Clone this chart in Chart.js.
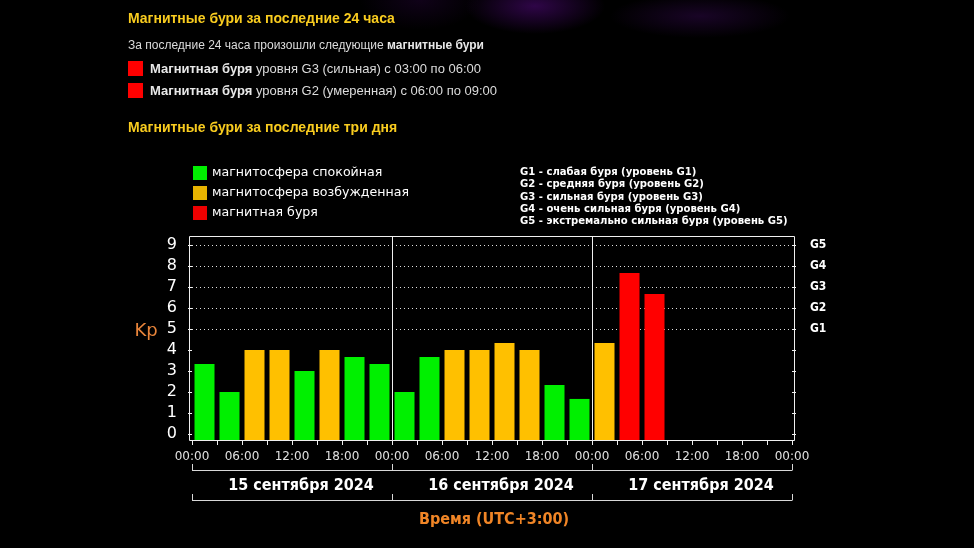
<!DOCTYPE html>
<html>
<head>
<meta charset="utf-8">
<script src="https://cdn.jsdelivr.net/npm/chart.js@4.4.1/dist/chart.umd.min.js"></script>
<style>
  html, body { margin:0; padding:0; }
  body {
    width:974px; height:548px; overflow:hidden; position:relative;
    background:
      radial-gradient(ellipse 70px 28px at 535px 6px, rgba(85,10,130,0.55), rgba(0,0,0,0) 100%),
      radial-gradient(ellipse 90px 22px at 700px 16px, rgba(55,10,85,0.45), rgba(0,0,0,0) 100%),
      radial-gradient(ellipse 60px 30px at 420px 0px, rgba(45,5,70,0.35), rgba(0,0,0,0) 100%),
      #000;
    font-family: "Liberation Sans", Arial, sans-serif;
  }
  #c { position:absolute; left:0; top:0; }
  .t { position:absolute; white-space:nowrap; line-height:1; }
  .h { color:#f9cc1f; font-weight:bold; font-size:14px; }
  .p { color:#dcdcdc; font-size:12px; }
  .p b { color:#e8e8e8; }
  .sq { position:absolute; }
  .lg { color:#fff; font-family:"DejaVu Sans", sans-serif; font-size:12.6px; }
  .gl { color:#fff; font-family:"DejaVu Sans Condensed","DejaVu Sans",sans-serif; font-weight:bold; font-size:11.2px; line-height:12.3px; }
</style>
</head>
<body>
<canvas id="c" width="974" height="548"></canvas>

<div class="t h" style="left:128px; top:11px;">Магнитные бури за последние 24 часа</div>
<div class="t p" style="left:128px; top:39px;">За последние 24 часа произошли следующие <b>магнитные бури</b></div>
<div class="sq" style="left:128px; top:61px; width:15px; height:15px; background:#ff0000;"></div>
<div class="t p" style="left:150px; top:62px; font-size:13px;"><b>Магнитная буря</b> уровня G3 (сильная) с 03:00 по 06:00</div>
<div class="sq" style="left:128px; top:83px; width:15px; height:15px; background:#ff0000;"></div>
<div class="t p" style="left:150px; top:84px; font-size:13px;"><b>Магнитная буря</b> уровня G2 (умеренная) с 06:00 по 09:00</div>
<div class="t h" style="left:128px; top:120px;">Магнитные бури за последние три дня</div>

<div class="sq" style="left:193px; top:166px; width:14px; height:14px; background:#00f000;"></div>
<div class="t lg" style="left:212px; top:166px;">магнитосфера спокойная</div>
<div class="sq" style="left:193px; top:186px; width:14px; height:14px; background:#e8b400;"></div>
<div class="t lg" style="left:212px; top:186px;">магнитосфера возбужденная</div>
<div class="sq" style="left:193px; top:206px; width:14px; height:14px; background:#ee0000;"></div>
<div class="t lg" style="left:212px; top:206px;">магнитная буря</div>

<div class="t gl" style="left:520px; top:166px;">G1 - слабая буря (уровень G1)<br>G2 - средняя буря (уровень G2)<br>G3 - сильная буря (уровень G3)<br>G4 - очень сильная буря (уровень G4)<br>G5 - экстремально сильная буря (уровень G5)</div>

<script>
// ---- data ----
const dayLabels = ['15 сентября 2024', '16 сентября 2024', '17 сентября 2024'];
const hourLabels = ['00:00', '06:00', '12:00', '18:00'];
const slotLabels = ['00:00','03:00','06:00','09:00','12:00','15:00','18:00','21:00'];
const categories = [];
dayLabels.forEach(d => slotLabels.forEach(s => categories.push(d + ' ' + s)));
const kpDay15 = [3.33, 2, 4, 4, 3, 4, 3.67, 3.33];
const kpDay16 = [2, 3.67, 4, 4, 4.33, 4, 2.33, 1.67];
const kpDay17 = [4.33, 7.67, 6.67, null, null, null, null, null];
const kpValues = kpDay15.concat(kpDay16, kpDay17);
const yTickLabels = ['0','1','2','3','4','5','6','7','8','9'];
const gTickLabels = ['','','','','','G1','G2','G3','G4','G5'];

// ---- styles ----
const GREEN = '#00f000', ORANGE = '#ffc000', RED = '#ff0000';
const barColors = kpValues.map(v => v == null ? 'transparent' : (v >= 5 ? RED : (v >= 4 ? ORANGE : GREEN)));
const Y_MIN = -6 / 21, Y_MAX = 198 / 21;
const fixedTicks = scale => { scale.ticks = yTickLabels.map((_, i) => ({ value: i })); };

const extras = {
  id: 'extras',
  afterDraw(chart) {
    const ctx = chart.ctx, a = chart.chartArea, xt = chart.scales.xt;
    ctx.save();
    ctx.strokeStyle = '#f0f0f0';
    ctx.lineWidth = 1;
    // frame
    ctx.beginPath();
    ctx.moveTo(189.5, a.bottom + 0.5); ctx.lineTo(189.5, a.top + 0.5);
    ctx.lineTo(794.5, a.top + 0.5); ctx.lineTo(794.5, a.bottom + 0.5);
    ctx.lineTo(189.5, a.bottom + 0.5);
    ctx.stroke();
    // day separators
    [24, 48].forEach(h => {
      const x = Math.round(xt.getPixelForValue(h)) + 0.5;
      ctx.beginPath(); ctx.moveTo(x, a.top); ctx.lineTo(x, a.bottom + 1); ctx.stroke();
    });
    // brackets
    ctx.strokeStyle = '#d8d8d8';
    [470, 500].forEach(yb => {
      ctx.beginPath();
      ctx.moveTo(xt.getPixelForValue(0), yb + 0.5);
      ctx.lineTo(xt.getPixelForValue(72), yb + 0.5);
      [0, 24, 48, 72].forEach(h => {
        const x = Math.round(xt.getPixelForValue(h)) + 0.5;
        ctx.moveTo(x, yb + 0.5); ctx.lineTo(x, yb - 6);
      });
      ctx.stroke();
    });
    // date labels
    ctx.fillStyle = '#ffffff';
    ctx.font = 'bold 16px "DejaVu Sans Condensed", "DejaVu Sans", sans-serif';
    ctx.textAlign = 'center';
    ctx.textBaseline = 'middle';
    dayLabels.forEach((d, i) => ctx.fillText(d, xt.getPixelForValue(12 + 24 * i) + 9, 486));
    // axis titles
    ctx.fillStyle = '#f08526';
    ctx.fillText('Время (UTC+3:00)', (xt.getPixelForValue(0) + xt.getPixelForValue(72)) / 2 + 2, 520);
    ctx.font = '18px "DejaVu Sans", sans-serif';
    ctx.fillStyle = '#e8843a';
    ctx.fillText('Kp', 146, 331);
    ctx.restore();
  }
};

new Chart(document.getElementById('c'), {
  type: 'bar',
  data: {
    labels: categories,
    datasets: [{
      data: kpValues,
      backgroundColor: barColors,
      base: Y_MIN,
      barPercentage: 0.8,
      categoryPercentage: 1.0,
      borderWidth: 0
    }]
  },
  options: {
    responsive: false,
    animation: false,
    devicePixelRatio: 1,
    layout: { padding: { top: 236, left: 0, right: 0, bottom: 0 } },
    plugins: { legend: { display: false }, tooltip: { enabled: false } },
    scales: {
      x: { type: 'category', display: false, offset: true },
      xt: {
        type: 'linear', position: 'bottom', min: 0, max: 72, offset: false,
        afterFit: s => { s.height = 108; },
        ticks: {
          stepSize: 3, autoSkip: false, maxRotation: 0, minRotation: 0,
          color: '#e0e0e0', padding: 5,
          font: { family: '"DejaVu Sans", sans-serif', size: 12 },
          callback: v => (v % 6 === 0 ? hourLabels[(v % 24) / 6] : '')
        },
        grid: { offset: false, drawOnChartArea: false, drawTicks: true, tickLength: 5, tickColor: '#f0f0f0' },
        border: { display: false }
      },
      y: {
        type: 'linear', position: 'left', min: Y_MIN, max: Y_MAX, beginAtZero: false,
        afterBuildTicks: fixedTicks,
        afterFit: s => { s.width = 192; },
        ticks: {
          autoSkip: false,
          color: '#ffffff', padding: 11,
          font: { family: '"DejaVu Sans", sans-serif', size: 16 },
          callback: v => yTickLabels[v]
        },
        grid: {
          drawOnChartArea: true, drawTicks: true, tickLength: 4, tickColor: '#f0f0f0',
          color: ctx => (ctx.tick && ctx.tick.value >= 5 ? '#e0e0e0' : 'rgba(0,0,0,0)'),
          lineWidth: 1
        },
        border: { display: false, dash: [1, 3] }
      },
      y2: {
        type: 'linear', position: 'right', min: Y_MIN, max: Y_MAX, beginAtZero: false,
        afterBuildTicks: fixedTicks,
        afterFit: s => { s.width = 182; },
        ticks: {
          autoSkip: false,
          color: '#ffffff', padding: 14,
          font: { family: '"DejaVu Sans Condensed", "DejaVu Sans", sans-serif', size: 12, weight: 'bold' },
          callback: v => gTickLabels[v]
        },
        grid: { drawOnChartArea: false, drawTicks: true, tickLength: 4, tickColor: '#f0f0f0' },
        border: { display: false }
      }
    }
  },
  plugins: [extras]
});
</script>
</body>
</html>
